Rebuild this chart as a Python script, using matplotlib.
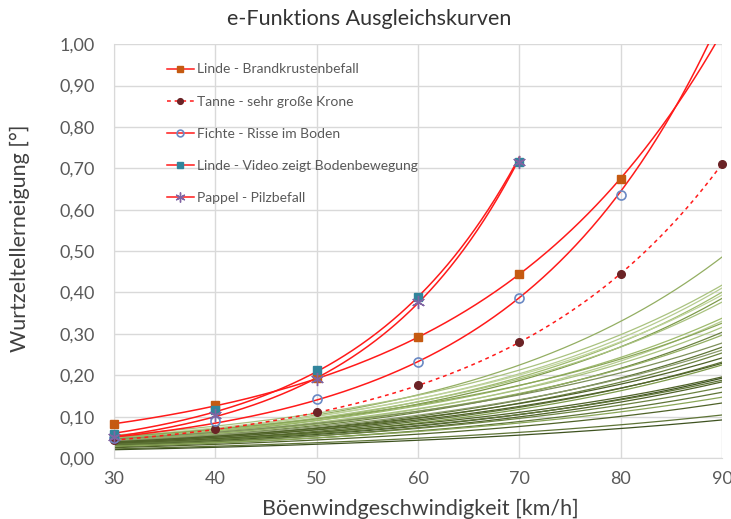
import numpy as np
import matplotlib
matplotlib.use("Agg")
import matplotlib.pyplot as plt
from matplotlib.lines import Line2D
from matplotlib.ticker import FuncFormatter

plt.rcParams["font.family"] = ["Lato", "DejaVu Sans"]

# Messpunkte der markierten Bäume
wind = [30, 40, 50, 60, 70, 80, 90]
linde_brand = [0.082, 0.127, 0.193, 0.292, 0.444, 0.674]
tanne = [0.043, 0.069, 0.111, 0.176, 0.280, 0.444, 0.710]
fichte = [0.048, 0.089, 0.143, 0.233, 0.386, 0.635]
linde_video = [0.058, 0.115, 0.213, 0.390, 0.715]
pappel = [0.050, 0.105, 0.192, 0.377, 0.715]

# übrige Bäume: Ausgleichskurve bei 30 und 90 km/h
green_at30 = [0.048, 0.055, 0.050, 0.046, 0.052, 0.044, 0.049, 0.047, 0.042,
              0.051, 0.045, 0.040, 0.043, 0.046, 0.038, 0.041, 0.036, 0.039,
              0.034, 0.037, 0.032, 0.035, 0.031, 0.033, 0.029, 0.030, 0.027,
              0.028, 0.025, 0.022, 0.020]
green_at90 = [0.486, 0.418, 0.411, 0.401, 0.394, 0.386, 0.377, 0.338, 0.331,
              0.326, 0.316, 0.304, 0.297, 0.278, 0.268, 0.261, 0.254, 0.242,
              0.232, 0.229, 0.225, 0.196, 0.193, 0.188, 0.184, 0.171, 0.159,
              0.147, 0.133, 0.104, 0.092]
green_colors = ["#93ae62", "#a9c27f", "#b6cc91", "#9fbb6e", "#c0d49d", "#7d9a4a",
                "#a9c27f", "#9fbb6e", "#b6cc91", "#8aa658", "#a9c27f", "#6b8240",
                "#93ae62", "#7d8f5a", "#5e7436", "#8a9a6a", "#6b8240", "#4f6228",
                "#5e7436", "#4f6228", "#7d9a4a", "#4f6228", "#3e5220", "#5e7436",
                "#4f6228", "#6b8240", "#5e7436", "#8aa658", "#4f6228", "#5e7436",
                "#3e5220"]


def expfit(x, y):
    b, ln_a = np.polyfit(x, np.log(y), 1)
    return lambda t: np.exp(ln_a + b * t)


fig = plt.figure(figsize=(7.31, 5.19), dpi=100)
ax = fig.add_axes([0.156, 0.1175, 0.832, 0.7975])

xs = np.linspace(30, 90, 300)
for a30, a90, c in zip(green_at30, green_at90, green_colors):
    f = expfit([30, 90], [a30, a90])
    ax.plot(xs, f(xs), color=c, lw=0.9, zorder=2)

series = [
    ("Linde - Brandkrustenbefall", linde_brand, 90, "-",
     dict(marker="s", ms=6, mfc="#c55a11", mec="#c55a11")),
    ("Tanne - sehr große Krone", tanne, 90, (0, (2.5, 2.5)),
     dict(marker="o", ms=5.5, mfc="#6b2326", mec="#6b2326")),
    ("Fichte - Risse im Boden", fichte, 90, "-",
     dict(marker="o", ms=6.5, mfc="none", mec="#6a89c4", mew=1.2)),
    ("Linde - Video zeigt Bodenbewegung", linde_video, 70, "-",
     dict(marker="s", ms=5.5, mfc="#31859c", mec="#31859c")),
    ("Pappel - Pilzbefall", pappel, 70, "-",
     dict(marker=(6, 2, 0), ms=9.5, mfc="#8064a2", mec="#8064a2", mew=1.0)),
]

handles = []
for label, vals, xend, ls, mk in series:
    xv = wind[:len(vals)]
    f = expfit(xv, vals)
    xr = np.linspace(30, xend, 300)
    ax.plot(xr, f(xr), color="#ff1a1a", lw=1.1, ls=ls, zorder=3)
    ax.plot(xv, vals, ls="none", zorder=4, clip_on=False, **mk)
    handles.append(Line2D([], [], color="#ff1a1a", lw=1.1, ls=ls, label=label, **mk))

ax.set_xlim(30, 90)
ax.set_ylim(0, 1)
ax.set_xticks(range(30, 91, 10))
ax.set_yticks(np.arange(0, 1.01, 0.1))
ax.yaxis.set_major_formatter(FuncFormatter(lambda v, p: f"{v:.2f}".replace(".", ",")))
ax.grid(True, color="#d9d9d9", lw=1.0)
ax.set_axisbelow(True)
for s in ["top", "right"]:
    ax.spines[s].set_visible(False)
for s in ["left", "bottom"]:
    ax.spines[s].set_color("#d9d9d9")
ax.tick_params(length=0, labelsize=13, labelcolor="#595959")
ax.tick_params(axis="y", pad=14)
ax.tick_params(axis="x", pad=9)

ax.set_xlabel("Böenwindgeschwindigkeit [km/h]", fontsize=15.5, color="#404040",
              va="center")
ax.xaxis.set_label_coords(0.503, -0.122)
ax.set_ylabel("Wurtzelteller­neigung [°]".replace("\u00ad", ""), fontsize=15.5,
              color="#404040", va="center")
ax.yaxis.set_label_coords(-0.155, 0.531)
fig.text(0.505, 0.963, "e-Funktions Ausgleichskurven", ha="center", va="center",
         fontsize=15.5, color="#333333")

leg = ax.legend(handles=handles, loc="upper left", bbox_to_anchor=(0.075, 0.97),
                frameon=False, fontsize=10, labelcolor="#595959", handlelength=2.0,
                handletextpad=0.2, labelspacing=1.45, borderpad=0, markerscale=0.75)

fig.savefig("out.png", dpi=100)
